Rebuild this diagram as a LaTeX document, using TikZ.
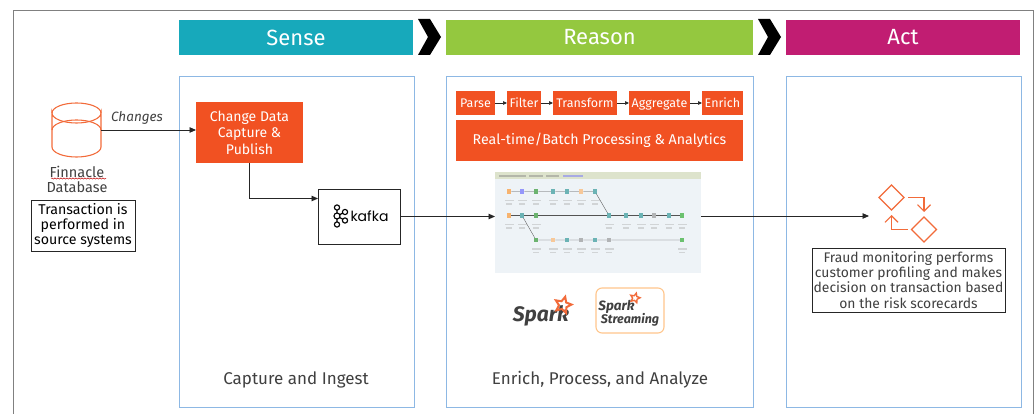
\documentclass[tikz,border=0pt]{standalone}
\usepackage{fontspec}
\setmainfont{Fira Sans}
\setsansfont{Fira Sans}
\newfontfamily\kafkafont{Poppins}
\usetikzlibrary{arrows.meta,shapes.geometric,decorations.pathmorphing,calc}
\definecolor{orangeF}{HTML}{F15122}
\definecolor{orangeL}{HTML}{F26B3A}
\definecolor{senseC}{HTML}{17A9BB}
\definecolor{reasonC}{HTML}{94C83F}
\definecolor{actC}{HTML}{C11D72}
\definecolor{panelC}{HTML}{8DB8E4}
\definecolor{frameC}{HTML}{808080}
\definecolor{txtC}{HTML}{404040}
\definecolor{lineC}{HTML}{262626}
\definecolor{shotC}{HTML}{EEF3F7}
\definecolor{tabC}{HTML}{DDE3CC}
\newcommand{\fs}[2]{\fontsize{#1}{#2}\selectfont}
\tikzset{
  x=1pt,y=-1pt,
  every node/.style={inner sep=0pt,outer sep=0pt},
  conn/.style={draw=lineC,line width=0.9pt,-{Triangle[length=6.5pt,width=5.5pt]}},
  smallconn/.style={draw=lineC,line width=0.7pt,-{Triangle[length=4pt,width=3.5pt]}},
  header/.style={text=white,font=\fs{22}{24}\selectfont,align=center},
  panel/.style={draw=panelC,line width=0.9pt,fill=white},
  orangebox/.style={fill=orangeF,text=white,align=center},
  smallbox/.style={orangebox,font=\fs{12.5}{14}\selectfont,minimum height=24pt,text height=11pt,text depth=2pt},
  notebox/.style={draw=lineC,line width=0.8pt,fill=white,align=center},
  caption/.style={text=txtC,font=\fs{17}{18}\selectfont},
  chev/.style={fill=black,draw=none},
  icon/.style={draw=orangeL,line width=1.1pt,fill=none},
  iconarrow/.style={icon,-{Straight Barb[length=6.5pt,width=13pt]}},
  wficon/.style={minimum width=4.5pt,minimum height=4.5pt,fill=#1,opacity=.55},
  wflabel/.style={fill=gray!70,opacity=.4,minimum height=1.6pt},
  wfline/.style={draw=gray!65!black,line width=.35pt},
}
\begin{document}
\begin{tikzpicture}
\useasboundingbox (0,0) rectangle (1036,414);
% outer frame, open at the bottom
\draw[frameC,line width=1pt] (13,414) -- (13,11) -- (1033,11) -- (1033,414);

% headers
\node[header,fill=senseC,minimum width=234pt,minimum height=35pt] (hsense) at (296,37.5) {Sense};
\node[header,fill=reasonC,minimum width=307pt,minimum height=35pt] (hreason) at (599.5,37.5) {Reason};
\node[header,fill=actC,minimum width=234pt,minimum height=35pt] (hact) at (903,37.5) {Act};
\fill[chev] (418,19) -- (430,19) -- (441,37) -- (430,55) -- (418,55) -- (428,37) -- cycle;
\fill[chev] (758,19) -- (770,19) -- (781,37) -- (770,55) -- (758,55) -- (768,37) -- cycle;

% panels
\node[panel,minimum width=235pt,minimum height=331pt] (psense) at (296.5,241.5) {};
\node[panel,minimum width=307pt,minimum height=331pt] (preason) at (599.5,241.5) {};
\node[panel,minimum width=235pt,minimum height=331pt] (pact) at (903.5,241.5) {};

% database
\node[minimum width=49pt,minimum height=54pt] (db) at (76.5,130) {};
\draw[icon] (52,113) arc[start angle=180,end angle=0,x radius=24.5,y radius=10]
            -- (101,147) arc[start angle=0,end angle=180,x radius=24.5,y radius=10] -- cycle;
\draw[icon] (52,113) arc[start angle=180,end angle=360,x radius=24.5,y radius=10];
\draw[icon] (52,130) arc[start angle=180,end angle=360,x radius=24.5,y radius=10];
\node[text=txtC,font=\fs{14.5}{15.5}\selectfont,align=center] (dbl) at (77,179.5) {Finnacle\\Database};
\draw[red!75!black,line width=.5pt,decorate,decoration={snake,amplitude=.6pt,segment length=3pt}] (51,178.5) -- (106,178.5);
\node[notebox,minimum width=104pt,minimum height=51pt,font=\fs{14.2}{15.3}\selectfont] (tx) at (83,225.5) {Transaction is\\performed in\\source systems};

% sense
\node[orangebox,minimum width=107pt,minimum height=61pt,font=\fs{14}{16.5}\selectfont] (cdc) at (249.5,132.5) {Change Data\\Capture \&\\Publish};
\node[notebox,minimum width=82pt,minimum height=55pt] (kafka) at (359,216.5) {};
\coordinate (kin) at (318,198.5);
\node[text=txtC,font=\fs{13.5}{15}\itshape] (chg) at (137,118) {Changes};
\draw[conn] (db.east) -- (db.east -| cdc.west);
\draw[conn] (cdc.south) |- (kin);
% kafka logo
\begin{scope}[line width=1.15pt,draw=black]
\coordinate (kc) at (337,216);
\coordinate (k1) at (337,207.5);
\coordinate (k2) at (337,224.5);
\coordinate (k3) at (345,212);
\coordinate (k4) at (345,220.5);
\draw (k1) -- (k2) (kc) -- (k3) (kc) -- (k4);
\foreach \p in {k1,k2,k3,k4} \draw[fill=white] (\p) circle[radius=2.6];
\draw[fill=white] (kc) circle[radius=3];
\end{scope}
\node[font=\kafkafont\fs{14}{16}\selectfont,text=black] (kaf) at (369.5,216) {kafka};
\node[caption] (c1) at (296,380) {Capture and Ingest};

% reason: steps
\node[smallbox,minimum width=39pt] (parse) at (475.5,103) {Parse};
\node[smallbox,minimum width=34pt] (filter) at (524,103) {Filter};
\node[smallbox,minimum width=64pt] (transform) at (585,103) {Transform};
\node[smallbox,minimum width=61pt] (aggregate) at (659.5,103) {Aggregate};
\node[smallbox,minimum width=41pt] (enrich) at (722.5,103) {Enrich};
\draw[smallconn] (parse) -- (filter);
\draw[smallconn] (filter) -- (transform);
\draw[smallconn] (transform) -- (aggregate);
\draw[smallconn] (aggregate) -- (enrich);
\node[orangebox,minimum width=287pt,minimum height=41pt,font=\fs{14.2}{16}\selectfont] (rt) at (599.5,140.5) {Real-time/Batch Processing \& Analytics};

% workflow screenshot
\node[fill=shotC,draw=none,minimum width=206pt,minimum height=101pt] (shot) at (598,222.5) {};
\fill[fill=tabC] (495,172) rectangle (701,179.5);
\foreach \x/\w/\col in {499/27/gray,529/14/gray,546/13/gray,563/20/blue!60} \fill[\col,opacity=.45] (\x,175) rectangle ++(\w,1.6);
\foreach \n/\x/\y/\c in {
  a1/509/191.5/orange,a2/522/191.5/blue!70,a3/536/191.5/green!50!black,a4/553/191.5/teal,a5/567/191.5/teal,a6/581/191.5/orange!70,a7/595/191.5/teal,
  b1/509/215.5/orange,b2/522/215.5/teal,b3/536/215.5/green!50!black,b4/609/215.5/teal,b5/626/215.5/teal,b6/641/215.5/teal,b7/654/215.5/gray,b8/669/215.5/teal,b9/682/215.5/green!60!black,
  d3/536/240/green!50!black,d4/553/240/orange!70,d5/567/240/teal,d6/581/240/gray,d7/595/240/teal,d8/609/240/gray,d9/682/240/green!60!black}
  {\node[wficon=\c] (\n) at (\x,\y) {};
   \node[wflabel,minimum width=9pt] (\n l1) at (\x,\y+9) {};
   \node[wflabel,minimum width=6pt] (\n l2) at (\x,\y+12.5) {};}
\draw[wfline] (a1)--(a2) (a2)--(a3) (a3)--(a4) (a4)--(a5) (a5)--(a6) (a6)--(a7) (a7)--(b4);
\draw[wfline] (b1)--(b2) (b2)--(b3) (b3)--(b4) (b4)--(b5) (b5)--(b6) (b6)--(b7) (b7)--(b8) (b8)--(b9);
\draw[wfline] (b2)--(d3) (d3)--(d4) (d4)--(d5) (d5)--(d6) (d6)--(d7) (d7)--(d8) (d8)--(d9);

\draw[conn] (kafka.east) -- (kafka.east -| shot.west);
\coordinate (actin) at (869,216);
\draw[conn] (shot.east |- actin) -- (actin);

% spark logos
\node[font=\bfseries\itshape\fs{21}{23}\selectfont,text=txtC] (spark) at (541,316) {Spark};
\node[star,star points=5,star point ratio=2.1,draw=orangeL,line width=2pt,minimum size=17pt,rotate=-15] (sparkstar) at (563,305) {};
\node[draw=orange!45,line width=1.1pt,rounded corners=6pt,minimum width=68pt,minimum height=45pt] (ssbox) at (630,310.5) {};
\node[font=\bfseries\itshape\fs{13.5}{16}\selectfont,text=txtC] (ss1) at (616.5,307) {Spark};
\node[star,star points=5,star point ratio=2.1,draw=orangeL,line width=1.4pt,minimum size=10pt,rotate=-15] (ssstar) at (635,298) {};
\node[font=\bfseries\itshape\fs{12.5}{14}\selectfont,text=txtC] (ss2) at (630,319.5) {Streaming};
\node[caption] (c2) at (600,380) {Enrich, Process, and Analyze};

% act
\node[diamond,icon,minimum width=25pt,minimum height=25pt] (d1) at (891.5,197.5) {};
\node[diamond,icon,minimum width=25pt,minimum height=25pt] (d2) at (924,229.5) {};
\coordinate (a1s) at ($(d1.east)+(4,0)$);
\coordinate (a1e) at ($(d2.north)+(0,-5)$);
\coordinate (a2s) at ($(d2.west)+(-4,0)$);
\coordinate (a2e) at ($(d1.south)+(0,5)$);
\draw[iconarrow] (a1s) -| (a1e);
\draw[iconarrow] (a2s) -| (a2e);
\node[notebox,minimum width=193pt,minimum height=64pt,text=txtC,font=\fs{13.9}{15.2}\selectfont] (fraud) at (908.5,280) {Fraud monitoring performs\\customer profiling and makes\\decision on transaction based\\on the risk scorecards};
\end{tikzpicture}
\end{document}
